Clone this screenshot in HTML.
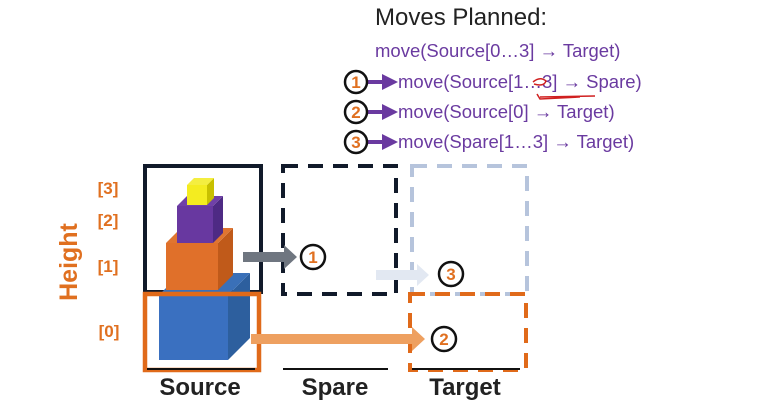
<!DOCTYPE html>
<html><head><style>
html,body{margin:0;padding:0;background:#fff;width:760px;height:402px;overflow:hidden}
text{font-family:"Liberation Sans",sans-serif}
</style></head><body>
<svg width="760" height="402" viewBox="0 0 760 402" xmlns="http://www.w3.org/2000/svg">
<defs>
<marker id="pa" markerWidth="4" markerHeight="4" refX="2" refY="2" orient="auto" markerUnits="strokeWidth"><path d="M0,0 L4,2 L0,4 z" fill="#6a3aa0"/></marker>
</defs>
<text x="375" y="25" font-size="24" fill="#222">Moves Planned:</text>
<g font-size="18.5" fill="#6a3aa0">
<text x="375" y="57">move(Source[0…3] → Target)</text>
<text x="398" y="88">move(Source[1…3] → Spare)</text>
<text x="398" y="118">move(Source[0] → Target)</text>
<text x="398" y="148">move(Spare[1…3] → Target)</text>
</g>
<path d="M533,82 Q540,76 546,81 Q544,87 534,84 M537,94 L540,99 L580,97 M540,97 L595,96" stroke="#d02020" stroke-width="1.5" fill="none"/>
<g stroke="#6a3aa0" stroke-width="4" fill="none">
<line x1="366" y1="82" x2="390" y2="82" marker-end="url(#pa)"/>
<line x1="366" y1="112" x2="390" y2="112" marker-end="url(#pa)"/>
<line x1="366" y1="142" x2="390" y2="142" marker-end="url(#pa)"/>
</g>
<g stroke="#111" stroke-width="2.5" fill="#fff">
<circle cx="356" cy="82" r="11"/><circle cx="356" cy="112" r="11"/><circle cx="356" cy="142" r="11"/>
</g>
<g font-size="17" font-weight="bold" fill="#e07020" text-anchor="middle">
<text x="356" y="88">1</text><text x="356" y="118">2</text><text x="356" y="148">3</text>
</g>
<!-- boxes -->
<rect x="145" y="166" width="116" height="126" fill="none" stroke="#111a2a" stroke-width="4"/>
<rect x="283" y="166" width="113" height="128" fill="none" stroke="#111a2a" stroke-width="4" stroke-dasharray="15,10"/>
<rect x="412" y="166" width="115" height="128" fill="none" stroke="#b6c4dc" stroke-width="4" stroke-dasharray="15,10"/>
<!-- blocks -->
<polygon points="228,295 250,273 250,338 228,360" fill="#2d5f9e"/>
<polygon points="159,295 181,273 250,273 228,295" fill="#3a70b8"/>
<rect x="159" y="295" width="69" height="65" fill="#3a70c0"/>
<polygon points="218,243 233,228 233,275 218,290" fill="#c05a1a"/>
<polygon points="166,243 181,228 233,228 218,243" fill="#e07530"/>
<rect x="166" y="243" width="52" height="47" fill="#e0702a"/>
<polygon points="213,206 223,196 223,233 213,243" fill="#4e2a84"/>
<polygon points="177,206 187,196 223,196 213,206" fill="#7040a8"/>
<rect x="177" y="206" width="36" height="37" fill="#6838a0"/>
<polygon points="207,185 214,178 214,198 207,205" fill="#c8c000"/>
<polygon points="187,185 194,178 214,178 207,185" fill="#f4ee40"/>
<rect x="187" y="185" width="20" height="20" fill="#f4ec20"/>
<rect x="145" y="294" width="114" height="76" fill="none" stroke="#e06a1a" stroke-width="4.5"/>
<rect x="410" y="294" width="116" height="76" fill="none" stroke="#e06a1a" stroke-width="4" stroke-dasharray="15,10"/>
<!-- base lines -->
<g stroke="#111" stroke-width="2"><line x1="147" y1="369" x2="255" y2="369"/><line x1="283" y1="369" x2="388" y2="369"/><line x1="412" y1="369" x2="520" y2="369"/></g>
<!-- arrows -->
<polygon points="243,252 284,252 284,245 297,257 284,269 284,262 243,262" fill="#6f7680"/>
<polygon points="376,270 417,270 417,264 429,275 417,286 417,280 376,280" fill="#e2e8f2"/>
<polygon points="251,334 412,334 412,327 425,339 412,351 412,344 251,344" fill="#eea060"/>
<g stroke="#111" stroke-width="2.5" fill="#fff">
<circle cx="313" cy="257" r="12"/><circle cx="451" cy="274" r="12"/><circle cx="444" cy="339" r="12"/>
</g>
<g font-size="17" font-weight="bold" fill="#e07020" text-anchor="middle">
<text x="313" y="263">1</text><text x="451" y="280">3</text><text x="444" y="345">2</text>
</g>
<g font-size="17" font-weight="bold" fill="#e07020" text-anchor="middle">
<text x="108" y="194">[3]</text><text x="108" y="226">[2]</text><text x="108" y="272">[1]</text><text x="109" y="337">[0]</text>
</g>
<text transform="translate(77,262) rotate(-90)" font-size="25" font-weight="bold" fill="#e07020" text-anchor="middle">Height</text>
<g font-size="24" font-weight="bold" fill="#222" text-anchor="middle">
<text x="200" y="395">Source</text><text x="335" y="395">Spare</text><text x="465" y="395">Target</text>
</g>
</svg>
</body></html>
